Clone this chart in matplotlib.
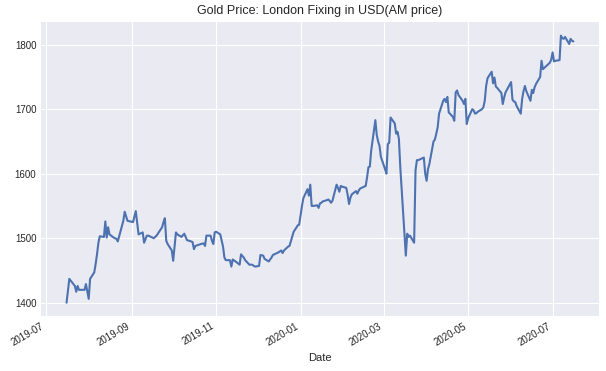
import matplotlib
matplotlib.use('Agg')
import matplotlib.pyplot as plt
import pandas as pd

# LBMA gold fixing, AM price in USD
dates = [
    '2019-07-16', '2019-07-18', '2019-07-22', '2019-07-23', '2019-07-24', '2019-07-25',
    '2019-07-29', '2019-07-30', '2019-08-01', '2019-08-02', '2019-08-05', '2019-08-06',
    '2019-08-07', '2019-08-08', '2019-08-09', '2019-08-12', '2019-08-13', '2019-08-14',
    '2019-08-15', '2019-08-16', '2019-08-19', '2019-08-21', '2019-08-22', '2019-08-26',
    '2019-08-27', '2019-08-29', '2019-09-02', '2019-09-04', '2019-09-06', '2019-09-09',
    '2019-09-10', '2019-09-12', '2019-09-13', '2019-09-17', '2019-09-19', '2019-09-23',
    '2019-09-24', '2019-09-25', '2019-09-26', '2019-09-27', '2019-09-30', '2019-10-01',
    '2019-10-03', '2019-10-04', '2019-10-07', '2019-10-09', '2019-10-11', '2019-10-14',
    '2019-10-15', '2019-10-16', '2019-10-17', '2019-10-21', '2019-10-23', '2019-10-24',
    '2019-10-25', '2019-10-28', '2019-10-29', '2019-10-30', '2019-10-31', '2019-11-01',
    '2019-11-04', '2019-11-06', '2019-11-07', '2019-11-08', '2019-11-11', '2019-11-12',
    '2019-11-13', '2019-11-15', '2019-11-18', '2019-11-19', '2019-11-21', '2019-11-22',
    '2019-11-25', '2019-11-27', '2019-11-29', '2019-12-02', '2019-12-03', '2019-12-05',
    '2019-12-06', '2019-12-09', '2019-12-11', '2019-12-12', '2019-12-13', '2019-12-16',
    '2019-12-18', '2019-12-19', '2019-12-20', '2019-12-23', '2019-12-24', '2019-12-27',
    '2019-12-30', '2019-12-31', '2020-01-02', '2020-01-03', '2020-01-06', '2020-01-07',
    '2020-01-08', '2020-01-09', '2020-01-10', '2020-01-13', '2020-01-14', '2020-01-15',
    '2020-01-16', '2020-01-17', '2020-01-20', '2020-01-21', '2020-01-22', '2020-01-23',
    '2020-01-24', '2020-01-27', '2020-01-28', '2020-01-29', '2020-01-30', '2020-01-31',
    '2020-02-03', '2020-02-04', '2020-02-05', '2020-02-06', '2020-02-07', '2020-02-10',
    '2020-02-11', '2020-02-12', '2020-02-13', '2020-02-14', '2020-02-17', '2020-02-18',
    '2020-02-19', '2020-02-20', '2020-02-21', '2020-02-24', '2020-02-25', '2020-02-26',
    '2020-02-27', '2020-02-28', '2020-03-02', '2020-03-03', '2020-03-04', '2020-03-05',
    '2020-03-06', '2020-03-09', '2020-03-10', '2020-03-11', '2020-03-12', '2020-03-13',
    '2020-03-16', '2020-03-17', '2020-03-18', '2020-03-19', '2020-03-20', '2020-03-23',
    '2020-03-24', '2020-03-25', '2020-03-26', '2020-03-27', '2020-03-30', '2020-03-31',
    '2020-04-01', '2020-04-02', '2020-04-03', '2020-04-06', '2020-04-07', '2020-04-08',
    '2020-04-09', '2020-04-10', '2020-04-13', '2020-04-14', '2020-04-15', '2020-04-16',
    '2020-04-17', '2020-04-20', '2020-04-21', '2020-04-22', '2020-04-23', '2020-04-24',
    '2020-04-27', '2020-04-28', '2020-04-29', '2020-04-30', '2020-05-01', '2020-05-04',
    '2020-05-05', '2020-05-06', '2020-05-07', '2020-05-08', '2020-05-11', '2020-05-12',
    '2020-05-13', '2020-05-14', '2020-05-15', '2020-05-18', '2020-05-19', '2020-05-20',
    '2020-05-21', '2020-05-22', '2020-05-25', '2020-05-26', '2020-05-27', '2020-05-28',
    '2020-05-29', '2020-06-01', '2020-06-02', '2020-06-03', '2020-06-04', '2020-06-05',
    '2020-06-08', '2020-06-09', '2020-06-10', '2020-06-11', '2020-06-12', '2020-06-15',
    '2020-06-16', '2020-06-17', '2020-06-18', '2020-06-19', '2020-06-22', '2020-06-23',
    '2020-06-24', '2020-06-25', '2020-06-26', '2020-06-29', '2020-06-30', '2020-07-01',
    '2020-07-02', '2020-07-03', '2020-07-06', '2020-07-07', '2020-07-08', '2020-07-09',
    '2020-07-10', '2020-07-13', '2020-07-14', '2020-07-15', '2020-07-16',
]

am_price = [
    1400, 1437, 1426, 1417, 1426, 1420,
    1420, 1429, 1406, 1437, 1447, 1460,
    1475, 1493, 1503, 1502, 1526, 1501,
    1517, 1506, 1501, 1499, 1495, 1527,
    1541, 1527, 1525, 1542, 1506, 1509,
    1493, 1504, 1504, 1500, 1504, 1517,
    1525, 1531, 1496, 1491, 1481, 1465,
    1509, 1506, 1502, 1507, 1497, 1495,
    1494, 1483, 1488, 1491, 1492, 1488,
    1504, 1504, 1496, 1491, 1509, 1510,
    1506, 1487, 1470, 1466, 1466, 1456,
    1467, 1464, 1459, 1475, 1470, 1466,
    1459, 1459, 1456, 1457, 1474, 1473,
    1468, 1464, 1470, 1474, 1475, 1478,
    1481, 1477, 1481, 1487, 1488, 1510,
    1520, 1521, 1550, 1562, 1576, 1566,
    1583, 1550, 1550, 1551, 1547, 1554,
    1555, 1557, 1559, 1560, 1558, 1555,
    1558, 1583, 1578, 1572, 1581, 1580,
    1578, 1567, 1553, 1563, 1568, 1573,
    1569, 1574, 1577, 1578, 1581, 1594,
    1610, 1611, 1636, 1683, 1660, 1650,
    1643, 1626, 1607, 1600, 1646, 1648,
    1687, 1678, 1662, 1665, 1654, 1610,
    1506, 1473, 1507, 1502, 1504, 1493,
    1605, 1621, 1621, 1622, 1625, 1600,
    1589, 1607, 1615, 1650, 1653, 1662,
    1672, 1693, 1713, 1716, 1711, 1719,
    1695, 1688, 1682, 1726, 1729, 1722,
    1713, 1708, 1716, 1677, 1686, 1700,
    1698, 1693, 1694, 1696, 1700, 1703,
    1713, 1736, 1748, 1758, 1740, 1749,
    1735, 1733, 1725, 1708, 1718, 1726,
    1730, 1742, 1715, 1712, 1711, 1705,
    1693, 1716, 1728, 1736, 1728, 1713,
    1730, 1725, 1734, 1739, 1750, 1775,
    1762, 1764, 1766, 1772, 1777, 1788,
    1774, 1775, 1776, 1814, 1810, 1809,
    1812, 1801, 1809, 1806, 1805,
]

plt.style.use('seaborn-v0_8-darkgrid')
plt.rcParams['font.family'] = ['Liberation Sans', 'DejaVu Sans']

fig, ax = plt.subplots(figsize=(6.06, 3.71), dpi=100)
ax.plot(pd.to_datetime(dates), am_price, color='#4c72b0', linewidth=1.5)

ax.set_title('Gold Price: London Fixing in USD(AM price)', fontsize=9, pad=6)
ax.set_xlabel('Date', fontsize=8)
ax.tick_params(labelsize=7, colors='#262626')

fig.autofmt_xdate()
fig.subplots_adjust(left=0.068, right=0.988, top=0.94, bottom=0.148)
fig.savefig('out.png')
